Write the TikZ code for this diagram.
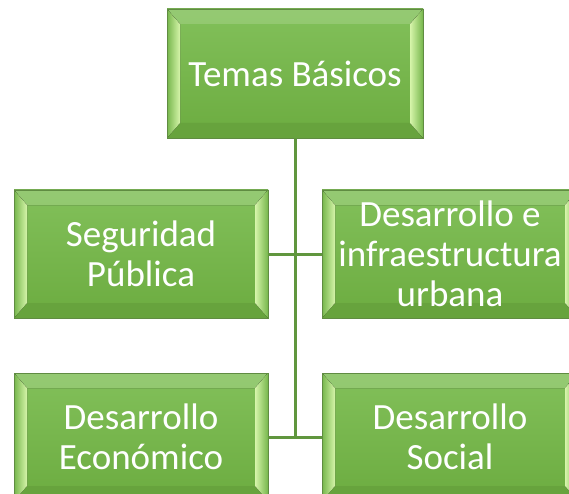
\documentclass[tikz,border=0pt]{standalone}
\usepackage{fontspec}
\newfontfamily\boxfont{Carlito}
\definecolor{gtop}{RGB}{130,192,90}
\definecolor{gbot}{RGB}{108,172,64}
\definecolor{gborder}{RGB}{96,140,66}
\definecolor{glight}{RGB}{214,245,170}
\definecolor{gface}{RGB}{118,182,76}
\definecolor{gline}{RGB}{96,150,62}
\tikzset{
  bevelbox/.style={rectangle, draw=gborder, line width=0.8pt,
    minimum width=255pt, minimum height=128pt, inner sep=0pt,
    top color=gtop, bottom color=gbot, text=white,
    font=\boxfont\fontsize{37}{40}\selectfont, align=center,
    path picture={
      \def\pb{path picture bounding box}
      \fill[top color=gtop!85!white, bottom color=gtop]
        (\pb.north west) -- (\pb.north east) -- ([xshift=-13pt,yshift=-15pt]\pb.north east)
        -- ([xshift=13pt,yshift=-15pt]\pb.north west) -- cycle;
      \fill[gbot!95!black]
        (\pb.south west) -- (\pb.south east) -- ([xshift=-13pt,yshift=15pt]\pb.south east)
        -- ([xshift=13pt,yshift=15pt]\pb.south west) -- cycle;
      \fill[left color=gface, right color=glight]
        (\pb.north west) -- ([xshift=13pt,yshift=-15pt]\pb.north west)
        -- ([xshift=13pt,yshift=15pt]\pb.south west) -- (\pb.south west) -- cycle;
      \fill[left color=glight, right color=gface]
        (\pb.north east) -- ([xshift=-13pt,yshift=-15pt]\pb.north east)
        -- ([xshift=-13pt,yshift=15pt]\pb.south east) -- (\pb.south east) -- cycle;
    }},
  conn/.style={draw=gline, line width=3pt}
}
\begin{document}
\begin{tikzpicture}[x=1pt,y=1pt]
\useasboundingbox (0,0) rectangle (569,-494);
\clip (0,0) rectangle (569,-494);
\node[bevelbox, minimum width=256pt, minimum height=129pt] (top) at (295,-73.5) {Temas Básicos};
\node[bevelbox, minimum width=254pt] (sp) at (141,-254) {Seguridad\\Pública};
\node[bevelbox, minimum width=256pt] (di) at (450,-254) {Desarrollo e\\infraestructura\\urbana};
\node[bevelbox, minimum width=254pt] (de) at (141,-437) {Desarrollo\\Económico};
\node[bevelbox, minimum width=256pt] (ds) at (450,-437) {Desarrollo\\Social};
\coordinate (bend) at (top.south |- de.east);
\draw[conn] (top.south) -- (bend);
\draw[conn] (sp.east) -- (di.west);
\draw[conn] (de.east) -- (ds.west);
\end{tikzpicture}
\end{document}
